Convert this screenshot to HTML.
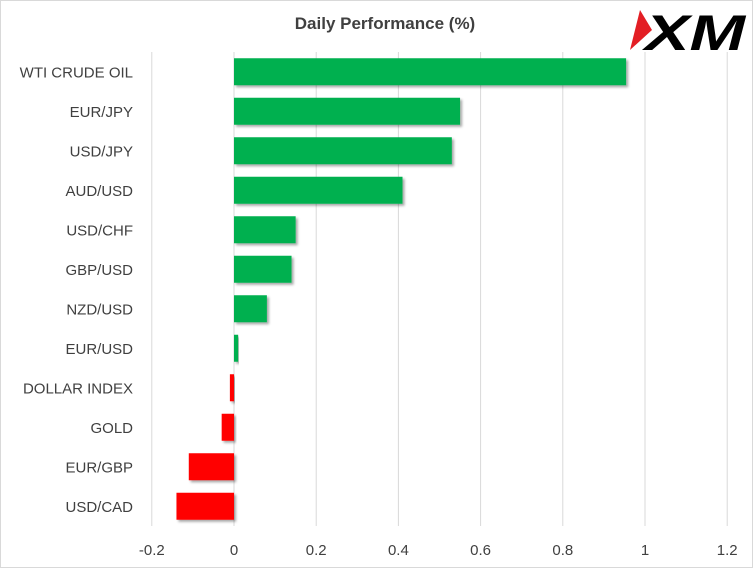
<!DOCTYPE html>
<html><head><meta charset="utf-8"><style>
body{margin:0;background:#fff}
svg{display:block;font-family:"Liberation Sans",sans-serif}
</style></head><body>
<svg id="c" width="753" height="568">
<rect x="0.5" y="0.5" width="752" height="567" fill="#fff" stroke="#d9d9d9"/>
<text x="385" y="29" text-anchor="middle" font-size="17" font-weight="bold" fill="#404040">Daily Performance  (%)</text>
<g>
<polygon points="640,10 652,30 630,50" fill="#e31e24"/>
<text x="645" y="50" font-size="50" font-weight="bold" font-style="italic" fill="#000" textLength="100" lengthAdjust="spacingAndGlyphs">XM</text>
</g>
<defs><filter id="sh" x="-10%" y="-20%" width="130%" height="150%"><feDropShadow dx="2" dy="2" stdDeviation="1.2" flood-color="#000" flood-opacity="0.35"/></filter></defs>
<g id="grid"></g><g id="bars"></g><g id="labels"></g><g id="ticks"></g>
</svg>
<script>
const categories=["WTI CRUDE OIL","EUR/JPY","USD/JPY","AUD/USD","USD/CHF","GBP/USD","NZD/USD","EUR/USD","DOLLAR INDEX","GOLD","EUR/GBP","USD/CAD"];
const values=[0.954,0.55,0.53,0.41,0.15,0.14,0.08,0.01,-0.01,-0.03,-0.11,-0.14];
const tickValues=[-0.2,0,0.2,0.4,0.6,0.8,1,1.2];
const tickLabels=["-0.2","0","0.2","0.4","0.6","0.8","1","1.2"];
const NS="http://www.w3.org/2000/svg";
const x0=234, unit=411, topY=52, rowH=39.5;
const xs=v=>x0+v*unit;
const yc=i=>topY+rowH*(i+0.5);
function mk(t,a,p){const e=document.createElementNS(NS,t);for(const k in a)e.setAttribute(k,a[k]);p.appendChild(e);return e;}
const grid=document.getElementById('grid'),bars=document.getElementById('bars'),labels=document.getElementById('labels'),ticks=document.getElementById('ticks');
tickValues.forEach((v,i)=>{
  const l=mk('line',{x1:xs(v),x2:xs(v),y1:topY,y2:topY+rowH*categories.length,stroke:'#d9d9d9','stroke-width':1},grid);
  
  
  const t=mk('text',{x:xs(v),y:555,'text-anchor':'middle','font-size':15,fill:'#404040'},ticks);
  t.textContent=tickLabels[i];
  
  
});
categories.forEach((c,i)=>{
  const v=values[i];
  const r=mk('rect',{x:Math.min(xs(0),xs(v)),y:yc(i)-13.5,width:Math.abs(xs(v)-xs(0)),height:27,fill:v>=0?'#00b050':'#ff0000',filter:'url(#sh)'},bars);
  
  
  const t=mk('text',{x:133,y:yc(i)+5.5,'text-anchor':'end','font-size':15,fill:'#404040'},labels);
  t.textContent=c;
  
  
});
</script>
</body></html>
